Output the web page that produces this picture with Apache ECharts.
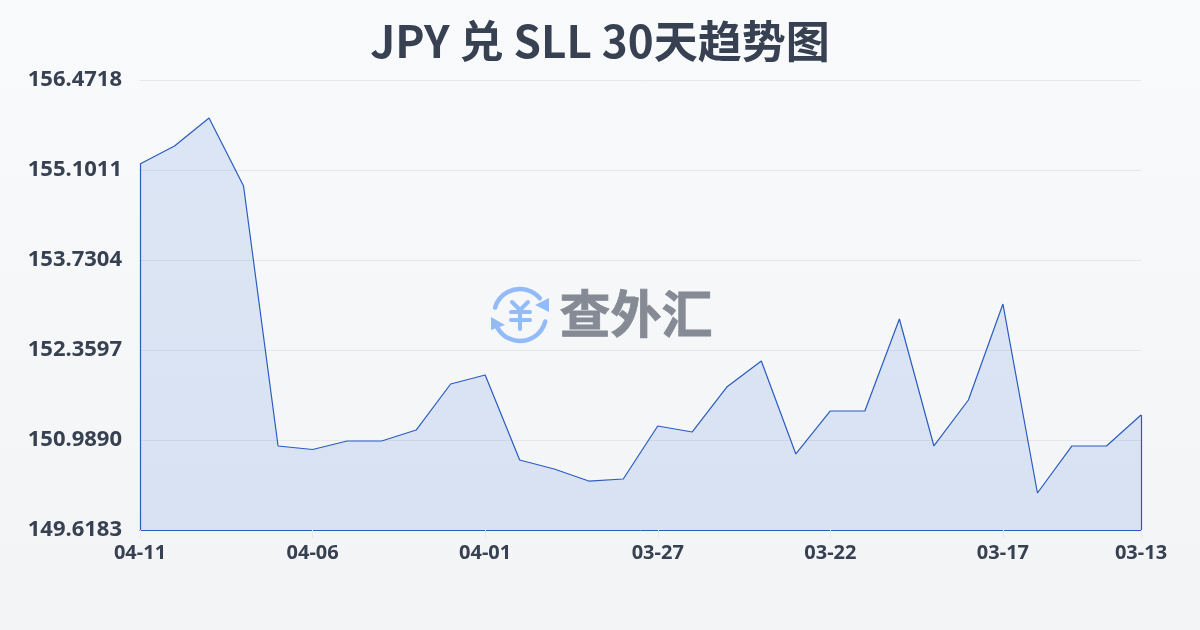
<!DOCTYPE html>
<html><head><meta charset="utf-8">
<style>html,body{margin:0;padding:0;width:1200px;height:630px;overflow:hidden}#c{width:1200px;height:630px}</style>
<script src="https://cdn.jsdelivr.net/npm/echarts@6/dist/echarts.min.js"></script>
</head><body><div id="c"></div>
<script>
const titleText = 'JPY 兑 SLL 30天趋势图';
const watermarkText = '查外汇';
const categories = ['04-11','04-10','04-09','04-08','04-07','04-06','04-05','04-04','04-03','04-02','04-01','03-31','03-30','03-29','03-28','03-27','03-26','03-25','03-24','03-23','03-22','03-21','03-20','03-19','03-18','03-17','03-16','03-15','03-14','03-13'];
const values = [155.192,155.467,155.893,154.857,150.898,150.844,150.974,150.974,151.141,151.842,151.979,150.684,150.547,150.364,150.395,151.202,151.111,151.796,152.192,150.776,151.431,151.431,152.832,150.898,151.598,153.060,150.182,150.898,150.898,151.370];
const yTicks = [149.6183,150.9890,152.3597,153.7304,155.1011,156.4718];
const fontFam = '"Noto Sans CJK SC","Noto Sans",sans-serif';
const labelFam = '"Noto Sans","Noto Sans CJK SC",sans-serif';
const ink = '#374151', lineCol = '#2a5cc0', iconCol = '#93bbf7';
const last = categories.length - 1, yMin = yTicks[0], yMax = yTicks[yTicks.length-1];
const showIdx = i => i % 5 === 0 || i === last;
const iconLine = (x1,y1,x2,y2) => ({type:'line',shape:{x1,y1,x2,y2},style:{stroke:iconCol,lineWidth:4,lineCap:'round'}});
const chart = echarts.init(document.getElementById('c'), null, {renderer:'canvas'});
chart.setOption({
  animation:false,
  backgroundColor:{type:'linear',x:0,y:0,x2:0,y2:1,colorStops:[{offset:0,color:'#f8fafc'},{offset:1,color:'#f3f4f6'}]},
  title:{text:titleText,left:'center',top:14,textStyle:{fontFamily:fontFam,fontSize:44,fontWeight:'bold',color:ink}},
  grid:{left:140,right:59,top:80,bottom:100},
  xAxis:{type:'category',data:categories,boundaryGap:false,
    axisLine:{show:true,lineStyle:{color:lineCol,width:1}},
    axisTick:{show:true,length:8,interval:(i)=>showIdx(i),lineStyle:{color:'#e5e7eb'}},
    axisLabel:{interval:(i)=>showIdx(i),margin:13,fontFamily:labelFam,fontSize:20,fontWeight:'bold',color:ink,hideOverlap:false},
    splitLine:{show:false}},
  yAxis:{type:'value',min:yMin,max:yMax,
    axisLine:{show:false},axisTick:{show:false,customValues:yTicks},
    axisLabel:{customValues:yTicks,margin:18,fontFamily:labelFam,fontSize:22,fontWeight:'bold',color:ink,
      formatter:v=>v.toFixed(4),verticalAlign:'middle',lineHeight:22,padding:[0,0,3,0]},
    splitLine:{show:true,lineStyle:{color:'#e5e7eb',width:1}}},
  series:[{type:'line',data:values,symbol:'none',smooth:false,
    lineStyle:{color:lineCol,width:1.2},
    areaStyle:{color:'rgba(59,111,216,0.2)'},
    markLine:{silent:true,symbol:'none',label:{show:false},lineStyle:{color:lineCol,width:1.2,type:'solid'},
      data:[[{coord:[categories[0],yMin]},{coord:[categories[0],values[0]]}],
            [{coord:[categories[last],yMin]},{coord:[categories[last],values[last]]}]]}}],
  graphic:[
    {type:'group',x:0,y:0,silent:true,z:50,children:[
      {type:'arc',shape:{cx:520,cy:315,r:26,startAngle:-2.85,endAngle:-0.7},style:{stroke:iconCol,lineWidth:4.5,lineCap:'round',fill:null}},
      {type:'arc',shape:{cx:520,cy:315,r:26,startAngle:0.25,endAngle:2.6},style:{stroke:iconCol,lineWidth:4.5,lineCap:'round',fill:null}},
      {type:'polygon',shape:{points:[[549,298],[549,312],[535,305]]},style:{fill:iconCol}},
      {type:'polygon',shape:{points:[[491,317],[491,330],[505,325]]},style:{fill:iconCol}},
      iconLine(512,302,520,310),iconLine(528,302,520,310),
      iconLine(511,312,530,312),iconLine(511,320,530,320),iconLine(520,310,520,329)
    ]},
    {type:'text',left:559,top:288,silent:true,z:50,style:{text:watermarkText,font:'bold 51px "Noto Sans CJK SC",sans-serif',fill:'#858a94',stroke:'#858a94',lineWidth:0.8}}
  ]
});
</script></body></html>
